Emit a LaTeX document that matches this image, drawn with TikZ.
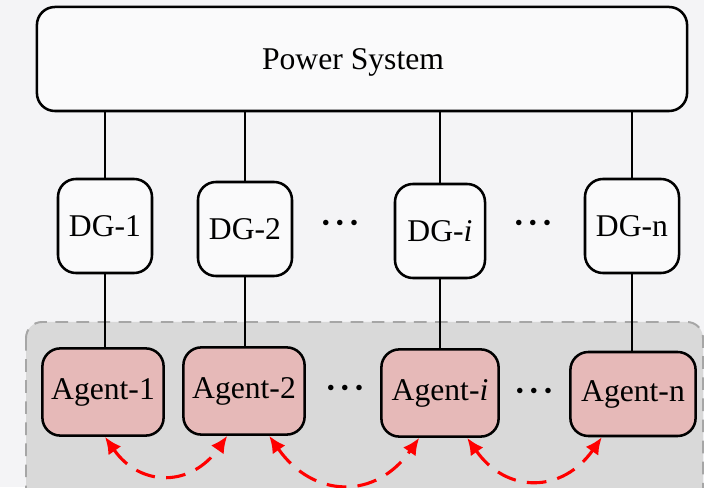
\documentclass[tikz,border=0pt]{standalone}
\usepackage{fontspec}
\setmainfont{Liberation Serif}
\usetikzlibrary{arrows.meta}
\definecolor{pagebg}{RGB}{244,244,246}
\definecolor{boxbg}{RGB}{250,250,251}
\definecolor{agentpink}{RGB}{230,185,184}
\definecolor{groupgray}{RGB}{217,217,217}
\definecolor{groupline}{RGB}{166,166,166}
\newcommand{\hdots}{{\fontsize{10}{12}\selectfont${\bullet}\mkern9mu{\bullet}\mkern9mu{\bullet}$}}
\begin{document}
\begin{tikzpicture}[x=0.025cm, y=0.025cm,
    every node/.style={font=\fontsize{22.5}{26}\selectfont},
    whitebox/.style={draw, line width=1.8pt, fill=boxbg, rounded corners=0.45cm, inner sep=0pt,
      text depth=0pt},
    dgbox/.style={whitebox, minimum width=2.35cm, minimum height=2.35cm},
    agentbox/.style={draw, line width=1.8pt, fill=agentpink, rounded corners=0.45cm,
      inner sep=0pt, minimum width=3.03cm, minimum height=2.18cm},
    link/.style={line width=2pt},
    commlink/.style={red, line width=2.2pt, dash pattern=on 14pt off 8pt,
      {Latex[length=12pt,width=11pt]}-{Latex[length=12pt,width=11pt]},
      looseness=1.3}]
  \clip (0,0) rectangle (704,487);
  \fill[pagebg] (0,0) rectangle (704,487);

  % agent group
  \draw[groupline, fill=groupgray, line width=1.4pt, dash pattern=on 9pt off 6pt,
    rounded corners=0.4cm] (26,165) rectangle (703,-20);

  % top
  \node[whitebox, minimum width=16.25cm, minimum height=2.6cm] (power) at (362,428) {Power System\hspace*{0.45cm}};

  % DGs
  \node[dgbox] (dg1) at (105,261) {DG-1};
  \node[dgbox] (dg2) at (245,258) {DG-2};
  \node[dgbox, minimum width=2.25cm] (dgi) at (440,256) {DG-\textit{i}};
  \node[dgbox] (dgn) at (632,261) {DG-n};
  \node (dots1) at (340,264) {\hdots};
  \node (dots2) at (533,264) {\hdots};

  % agents
  \node[agentbox] (ag1) at (103,95) {Agent-1};
  \node[agentbox] (ag2) at (244,96) {Agent-2};
  \node[agentbox, minimum width=2.93cm] (agi) at (440,94) {Agent-\textit{i}};
  \node[agentbox, minimum width=3.13cm, minimum height=2.1cm] (agn) at (633,93) {Agent-n};
  \node (dots3) at (345,99) {\hdots};
  \node (dots4) at (534,96) {\hdots};

  \foreach \n in {1,2,i,n} {
    \draw[link] (power.south -| dg\n.north) -- (dg\n.north);
    \draw[link] (dg\n.south) -- (dg\n.south |- ag\n.north);
  }

  % communication
  \draw[commlink] ([xshift=0.05cm]ag1.south) to[out=-55, in=-125] ([xshift=-0.42cm]ag2.south);
  \draw[commlink] ([xshift=0.63cm]ag2.south) to[out=-55, in=-125] ([xshift=-0.52cm]agi.south);
  \draw[commlink] ([xshift=0.68cm]agi.south) to[out=-55, in=-125] ([xshift=-0.78cm]agn.south);
\end{tikzpicture}
\end{document}
